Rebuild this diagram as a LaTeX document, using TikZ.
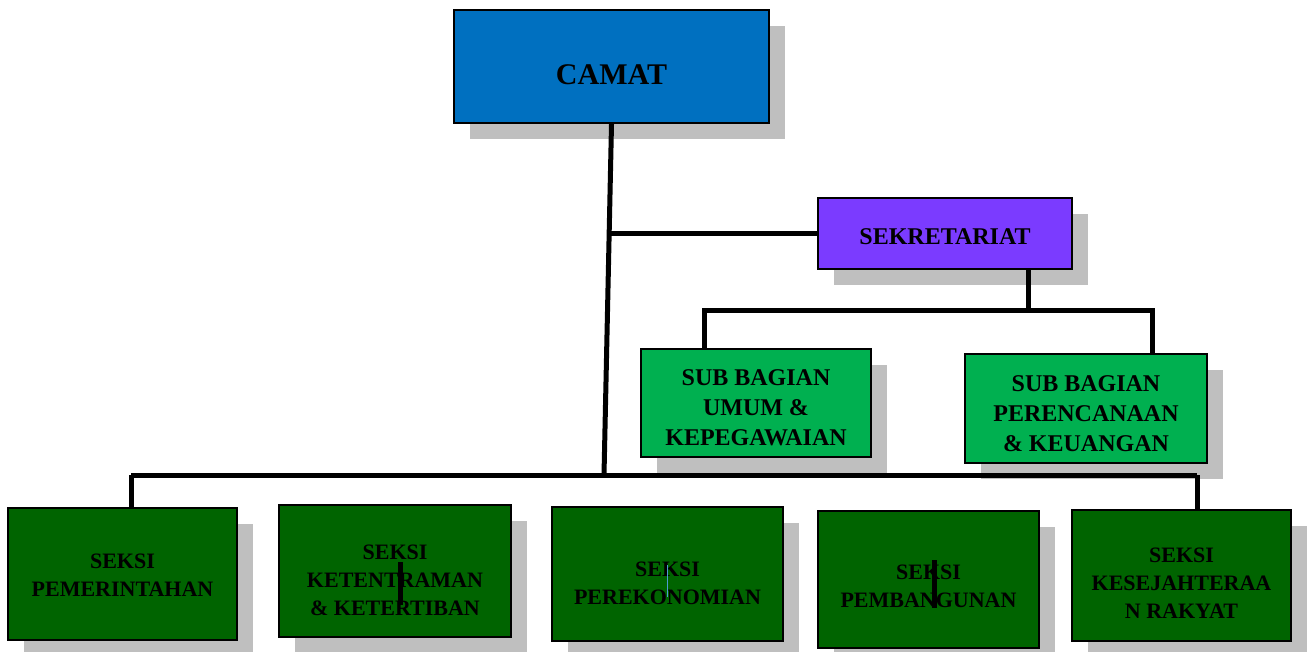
\documentclass[tikz,border=0pt]{standalone}
\usepackage{fontspec}
\setmainfont{Liberation Serif}

\definecolor{camatblue}{HTML}{0070C0}
\definecolor{sekpurple}{HTML}{7B3BFF}
\definecolor{subgreen}{HTML}{00B050}
\definecolor{seksigreen}{HTML}{006400}
\definecolor{shadowgray}{HTML}{BFBFBF}

\begin{document}
\begin{tikzpicture}[x=1pt, y=-1pt,
  box/.style={draw=black, line width=2pt, inner sep=0pt},
  shade/.style={fill=shadowgray, inner sep=0pt},
  boxtext/.style={align=center, text=black, inner sep=0pt},
  link/.style={line width=5pt},
  bigfont/.style={font=\fontsize{30}{34}\selectfont\bfseries},
  midfont/.style={font=\fontsize{24}{30}\selectfont\bfseries},
  smallfont/.style={font=\fontsize{22}{28}\selectfont\bfseries}]

\useasboundingbox (0,0) rectangle (1311,651);

% shadows
\foreach \x/\y/\w/\h in {627.5/82.5/315/113, 961/249.5/254/71, 772/419/230/108, 1102/424.5/242/109,
  138.5/590/229/132, 411/587/232/132, 683.5/590/231/134, 944.5/595.5/221/137, 1197.5/591.5/219/131}
{
   \node[shade, minimum width=\w, minimum height=\h] at (\x,\y){};
}

% boxes
\node[box, fill=camatblue, minimum width=315, minimum height=113,
  label={[boxtext, bigfont, yshift=-8pt]center:CAMAT}] (camat) at (611.5,66.5){};
\node[box, fill=sekpurple, minimum width=254, minimum height=71,
  label={[boxtext, midfont, yshift=-3pt]center:SEKRETARIAT}] (sekre) at (945,233.5){};
\node[box, fill=subgreen, minimum width=230, minimum height=108,
  label={[boxtext, midfont, yshift=-5pt]center:SUB BAGIAN\\UMUM \&\\KEPEGAWAIAN}] (umum) at (756,403){};
\node[box, fill=subgreen, minimum width=242, minimum height=109,
  label={[boxtext, midfont, yshift=-5pt]center:SUB BAGIAN\\PERENCANAAN\\\& KEUANGAN}] (renc) at (1086,408.5){};

\node[box, fill=seksigreen, minimum width=229, minimum height=132,
  label={[boxtext, smallfont, yshift=-1pt]center:SEKSI\\PEMERINTAHAN}] (pem) at (122.5,574){};
\node[box, fill=seksigreen, minimum width=232, minimum height=132,
  label={[boxtext, smallfont, yshift=-9pt]center:SEKSI\\KETENTRAMAN\\\& KETERTIBAN}] (trantib) at (395,571){};
\node[box, fill=seksigreen, minimum width=231, minimum height=134,
  label={[boxtext, smallfont, yshift=-9pt]center:SEKSI\\PEREKONOMIAN}] (ekon) at (667.5,574){};
\node[box, fill=seksigreen, minimum width=221, minimum height=137,
  label={[boxtext, smallfont, yshift=-7pt]center:SEKSI\\PEMBANGUNAN}] (bang) at (928.5,579.5){};
\node[box, fill=seksigreen, minimum width=219, minimum height=131,
  label={[boxtext, smallfont, yshift=-8pt]center:SEKSI\\KESEJAHTERAA\\N RAKYAT}] (kesra) at (1181.5,575.5){};

% connectors
\coordinate (hub) at (604,475);
\coordinate (skbranch) at (609,233.5);
\coordinate (skdown) at (1028,310);
\coordinate (busleft) at (131,475);
\coordinate (busright) at (1197,475);

\draw[link] (camat.south) -- (hub);
\draw[link] (skbranch) -- (sekre.west);
\draw[link] (skdown |- sekre.south) -- (skdown);
\draw[link] (umum.north -| 704,0) |- (skdown) -| (renc.north -| 1152,0);
\draw[link] (busleft) -- (busright);
\draw[link] (pem.north -| busleft) -- (busleft);
\draw[link] (kesra.north -| busright) -- (busright);

% stray marks
\draw[line width=5pt] (400,562)--(400,605);
\draw[line width=5pt] (934,560)--(934,608);
\draw[line width=1pt, color=camatblue!70] (667,565)--(667,597);

\end{tikzpicture}
\end{document}
